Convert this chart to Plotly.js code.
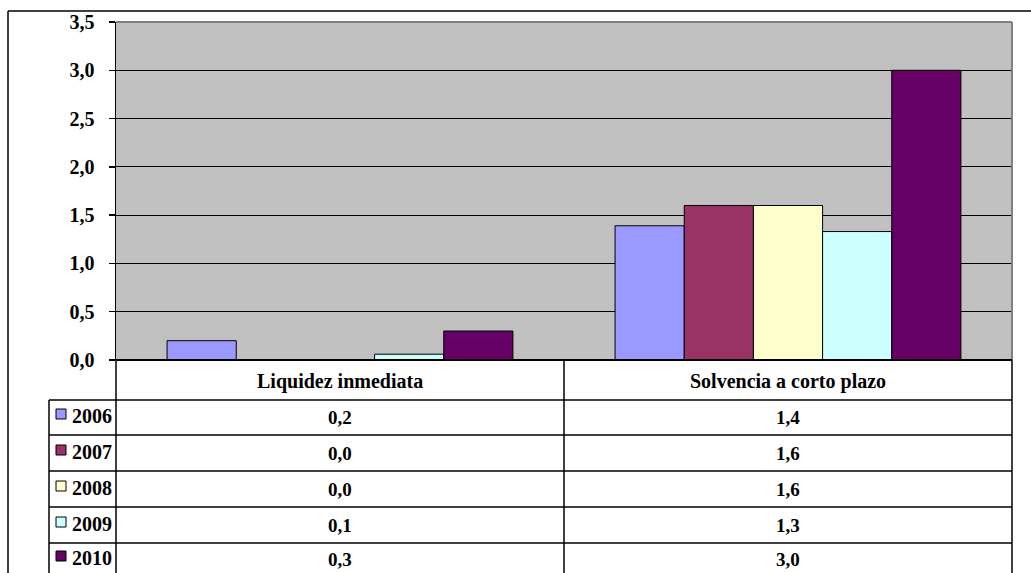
<!DOCTYPE html>
<html>
<head>
<meta charset="utf-8">
<script src="https://cdn.plot.ly/plotly-3.0.1.min.js"></script>
<style>html,body{margin:0;padding:0;background:#fff;}#chart{width:1031px;height:573px;}</style>
</head>
<body>
<div id="chart"></div>
<script>
const categories = ["Liquidez inmediata", "Solvencia a corto plazo"];
const years = ["2006", "2007", "2008", "2009", "2010"];
const v2006 = [0.2, 1.39];
const v2007 = [0.0, 1.6];
const v2008 = [0.0, 1.6];
const v2009 = [0.06, 1.33];
const v2010 = [0.3, 3.0];
const colors = ["#9999FF", "#993366", "#FFFFCC", "#CCFFFF", "#660066"];
const yTickVals = [0, 0.5, 1, 1.5, 2, 2.5, 3, 3.5];
const yTickText = ["0,0", "0,5", "1,0", "1,5", "2,0", "2,5", "3,0", "3,5"];

const series = [v2006, v2007, v2008, v2009, v2010];
const FONT = "'Liberation Serif', 'Times New Roman', serif";

const W = 1031, H = 573;
const PL = 116, PR = 1012, PT = 22, PB = 360;
const X = px => (px - PL) / (PR - PL);
const Y = py => (PB - py) / (PB - PT);

const traces = series.map((vals, i) => ({
  type: "bar",
  name: years[i],
  x: categories,
  y: vals,
  marker: {color: colors[i], line: {color: "#000", width: 1}},
  hoverinfo: "x+y+name"
}));

const shapes = [];
const annotations = [];
const line = (x0, y0, x1, y1, color, width) => shapes.push({
  type: "line", xref: "paper", yref: "paper",
  x0: X(x0), y0: Y(y0), x1: X(x1), y1: Y(y1),
  line: {color: color || "#000", width: width || 1.5}
});

line(8, 11, 1040, 11, "#000", 1.5);
line(8, 11, 8, 600, "#000", 1.5);
line(PL, PT, PR, PT, "#808080", 2);
line(PR, PT, PR, PB, "#808080", 2);

const rowLines = [400, 435, 471, 507, 543];
const rowCenters = [417, 453, 489, 525, 559];
line(PL, PB, PR, PB, "#000", 2);
rowLines.forEach(r => line(49, r, PR, r, "#000", 1.5));
line(PL, PB, PL, 600, "#000", 1.5);
line(564, PB, 564, 600, "#000", 1.5);
line(PR, PB, PR, 600, "#000", 1.5);
line(49, 400, 49, 600, "#000", 1.5);

const catCenters = [340, 788];
categories.forEach((c, j) => annotations.push({
  xref: "paper", yref: "paper", x: X(catCenters[j]), y: Y(381),
  text: "<b>" + c + "</b>", showarrow: false, xanchor: "center", yanchor: "middle",
  font: {family: FONT, size: 20, color: "#000"}
}));

years.forEach((yr, i) => {
  const cy = rowCenters[i];
  shapes.push({
    type: "rect", xref: "paper", yref: "paper",
    x0: X(56), x1: X(66), y0: Y(cy - 8), y1: Y(cy + 2),
    fillcolor: colors[i], line: {color: "#000", width: 1}
  });
  annotations.push({
    xref: "paper", yref: "paper", x: X(70), y: Y(cy - 1),
    text: "<b>" + yr + "</b>", showarrow: false, xanchor: "left", yanchor: "middle",
    font: {family: FONT, size: 20, color: "#000"}
  });
  series[i].forEach((v, j) => annotations.push({
    xref: "paper", yref: "paper", x: X(catCenters[j]), y: Y(cy),
    text: "<b>" + v.toFixed(1).replace(".", ",") + "</b>", showarrow: false,
    xanchor: "center", yanchor: "middle",
    font: {family: FONT, size: 19, color: "#000"}
  }));
});

const layout = {
  width: W, height: H,
  font: {family: FONT},
  margin: {l: PL, r: W - PR, t: PT, b: H - PB, pad: 0},
  paper_bgcolor: "#ffffff",
  plot_bgcolor: "#C0C0C0",
  barmode: "group",
  bargap: 0.228,
  bargroupgap: 0,
  showlegend: false,
  xaxis: {showticklabels: false, ticks: "", showgrid: false, zeroline: false, showline: false, fixedrange: true},
  yaxis: {
    range: [0, 3.5], tickvals: yTickVals, ticktext: yTickText,
    showgrid: true, gridcolor: "#000", gridwidth: 1,
    zeroline: false, showline: true, linecolor: "#000", linewidth: 1.5,
    ticks: "outside", ticklen: 6, tickcolor: "#000", tickwidth: 1.5,
    ticklabelstandoff: 10,
    tickfont: {family: FONT, size: 20, color: "#000", weight: "bold"},
    fixedrange: true
  },
  shapes: shapes,
  annotations: annotations
};

Plotly.newPlot("chart", traces, layout, {displayModeBar: false, staticPlot: true});
</script>
</body>
</html>
